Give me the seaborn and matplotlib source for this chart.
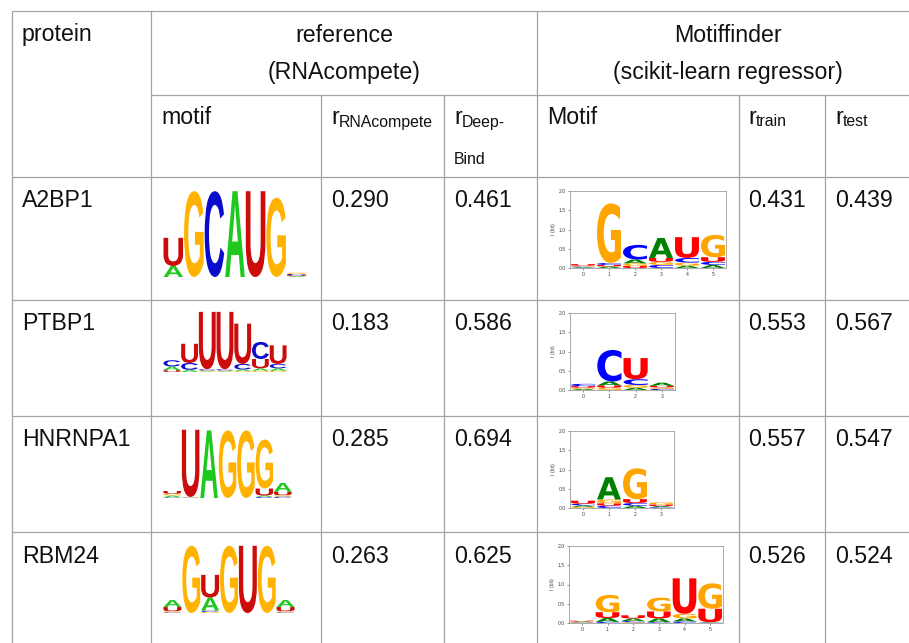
import numpy as np
import matplotlib
matplotlib.use("Agg")
import matplotlib.pyplot as plt
import seaborn as sns
from matplotlib.textpath import TextPath
from matplotlib.font_manager import FontProperties
from matplotlib.patches import PathPatch
from matplotlib.transforms import Affine2D

# ---------------- data ----------------
proteins = ["A2BP1", "PTBP1", "HNRNPA1", "RBM24"]
r_rnacompete = [0.290, 0.183, 0.285, 0.263]
r_deepbind = [0.461, 0.586, 0.694, 0.625]
r_train = [0.431, 0.553, 0.557, 0.526]
r_test = [0.439, 0.567, 0.547, 0.524]

letters = ["A", "C", "G", "U"]
# information content (bits) per position, letter order A, C, G, U
ref_a2bp1 = [[0.25, 0.00, 0.00, 0.64], [0, 0, 1.95, 0], [0, 1.95, 0, 0], [1.95, 0, 0, 0],
             [0, 0, 0, 1.95], [0, 0, 1.80, 0], [0.02, 0.03, 0.03, 0.02]]
ref_ptbp1 = [[0.12, 0.20, 0.00, 0.06], [0.07, 0.22, 0.00, 0.62], [0.02, 0.04, 0.03, 1.85],
             [0.02, 0.04, 0.03, 1.85], [0.05, 0.18, 0.03, 1.30], [0.08, 0.55, 0.04, 0.30],
             [0.08, 0.14, 0.04, 0.60]]
ref_hnrnpa1 = [[0.05, 0.02, 0.05, 0.08], [0.01, 0.01, 0.01, 1.92], [1.93, 0, 0, 0],
               [0, 0, 1.93, 0], [0, 0, 1.93, 0], [0.04, 0.03, 1.40, 0.20],
               [0.25, 0.04, 0.04, 0.10]]
ref_rbm24 = [[0.20, 0.02, 0.03, 0.12], [0, 0, 1.92, 0], [0.37, 0.04, 0.03, 0.65],
             [0, 0, 1.92, 0], [0, 0, 0, 1.92], [0, 0, 1.92, 0], [0.20, 0.02, 0.03, 0.12]]

mf_a2bp1 = [[0.02, 0.02, 0.02, 0.04], [0.04, 0.05, 1.55, 0.04], [0.10, 0.38, 0.07, 0.05],
            [0.52, 0.08, 0.08, 0.10], [0.06, 0.12, 0.08, 0.54], [0.08, 0.08, 0.58, 0.12]]
mf_ptbp1 = [[0.03, 0.06, 0.03, 0.04], [0.10, 0.82, 0.06, 0.06], [0.06, 0.15, 0.07, 0.55],
            [0.08, 0.03, 0.04, 0.04]]
mf_hnrnpa1 = [[0.04, 0.04, 0.03, 0.08], [0.58, 0.06, 0.10, 0.06], [0.06, 0.07, 0.80, 0.10],
              [0.03, 0.02, 0.06, 0.04]]
mf_rbm24 = [[0.02, 0.01, 0.01, 0.02], [0.10, 0.03, 0.45, 0.15], [0.07, 0.03, 0.02, 0.08],
            [0.10, 0.02, 0.36, 0.18], [0.08, 0.04, 0.12, 0.92], [0.01, 0.01, 0.66, 0.35]]

ref_logos = [ref_a2bp1, ref_ptbp1, ref_hnrnpa1, ref_rbm24]
mf_logos = [mf_a2bp1, mf_ptbp1, mf_hnrnpa1, mf_rbm24]

# ---------------- style ----------------
sns.set_style("white")
plt.rcParams["font.family"] = ["Liberation Sans", "DejaVu Sans"]

W, H = 909, 643
fig = plt.figure(figsize=(W / 100, H / 100), dpi=100)
ax = fig.add_axes([0, 0, 1, 1])
ax.set_xlim(0, W)
ax.set_ylim(H, 0)
ax.axis("off")

GRID = "#a3a3a3"
LW = 0.9
# table grid
ax.hlines(11, 12, W, color=GRID, lw=LW)
ax.hlines(94.5, 151, W, color=GRID, lw=LW)
for y in [177, 300, 416, 532]:
    ax.hlines(y, 12, W, color=GRID, lw=LW)
for x in [12, 151, 537]:
    ax.vlines(x, 11, H, color=GRID, lw=LW)
for x in [321, 444, 739, 825]:
    ax.vlines(x, 94.5, H, color=GRID, lw=LW)

FS = 16.7
SFS = 11.4
tk = dict(color="#111111", va="baseline")
ax.text(22, 41.5, "protein", fontsize=FS, ha="left", **tk)
ax.text(344, 41.5, "reference", fontsize=FS, ha="center", **tk)
ax.text(344, 79.5, "(RNAcompete)", fontsize=FS, ha="center", **tk)
ax.text(728, 41.5, "Motiffinder", fontsize=FS, ha="center", **tk)
ax.text(728, 79.5, "(scikit-learn regressor)", fontsize=FS, ha="center", **tk)

ax.text(161, 123.5, "motif", fontsize=FS, ha="left", **tk)
ax.text(547, 123.5, "Motif", fontsize=FS, ha="left", **tk)
for x, sub in [(331, "RNAcompete"), (454, "Deep-"), (748, "train"), (835, "test")]:
    ax.text(x, 123.5, "r", fontsize=FS, ha="left", **tk)
    ax.text(x + 7.8, 126.5, sub, fontsize=SFS, ha="left", **tk)
ax.text(454, 163.5, "Bind", fontsize=SFS, ha="left", **tk)

row_base = [207, 330, 446, 563]
for i, name in enumerate(proteins):
    yb = row_base[i]
    ax.text(22, yb, name, fontsize=FS, ha="left", **tk)
    ax.text(331, yb, f"{r_rnacompete[i]:.3f}", fontsize=FS, ha="left", **tk)
    ax.text(454, yb, f"{r_deepbind[i]:.3f}", fontsize=FS, ha="left", **tk)
    ax.text(748, yb, f"{r_train[i]:.3f}", fontsize=FS, ha="left", **tk)
    ax.text(835, yb, f"{r_test[i]:.3f}", fontsize=FS, ha="left", **tk)

# ---------------- logos ----------------
ref_colors = {"A": "#1ec81e", "C": "#0b0bcc", "G": "#ffb300", "U": "#cc0b0b"}
mf_colors = {"A": "#008000", "C": "#0000ff", "G": "#ffa500", "U": "#ff0000"}
ref_font = FontProperties(family="Liberation Sans", weight="bold")
mf_font = FontProperties(family="DejaVu Sans", weight="bold")


def draw_logo(lax, mat, colors, font, width):
    for i, heights in enumerate(mat):
        pairs = sorted(zip(letters, heights), key=lambda p: p[1])
        y0 = 0.0
        for letter, h in pairs:
            if h <= 0:
                continue
            tp = TextPath((0, 0), letter, size=1, prop=font)
            bb = tp.get_extents()
            tr = (Affine2D().translate(-bb.x0, -bb.y0)
                  .scale(width / bb.width, h / bb.height)
                  .translate(i - width / 2, y0))
            lax.add_patch(PathPatch(tr.transform_path(tp), fc=colors[letter], ec="none"))
            y0 += h


def px_axes(x0, x1, ytop, ybot):
    return fig.add_axes([x0 / W, 1 - ybot / H, (x1 - x0) / W, (ybot - ytop) / H])


ref_boxes = [(163, 307, 189, 277), (163, 287, 310, 372), (163, 292, 428, 498), (163, 295, 543, 613)]
for mat, (x0, x1, yt, yb) in zip(ref_logos, ref_boxes):
    lax = px_axes(x0, x1, yt, yb)
    lax.set_xlim(-0.5, len(mat) - 0.5)
    lax.set_ylim(0, 2)
    lax.axis("off")
    draw_logo(lax, mat, ref_colors, ref_font, 0.95)

mf_boxes = [(570, 726, 191, 268), (570, 675, 313, 390), (570, 674, 431, 508), (569, 723, 546, 623)]
for mat, (x0, x1, yt, yb) in zip(mf_logos, mf_boxes):
    lax = px_axes(x0, x1, yt, yb)
    n = len(mat)
    lax.set_xlim(-0.5, n - 0.5)
    lax.set_ylim(0, 2)
    lax.set_facecolor("white")
    draw_logo(lax, mat, mf_colors, mf_font, 0.92)
    lax.set_xticks(range(n))
    lax.set_yticks([0, 0.5, 1.0, 1.5, 2.0])
    lax.set_yticklabels([f"{v:.1f}" for v in [0, 0.5, 1.0, 1.5, 2.0]])
    lax.tick_params(labelsize=3.7, length=1.5, width=0.4, pad=1.2, colors="#444444",
                    left=True, bottom=True)
    lax.set_ylabel("I (bit)", fontsize=3.7, labelpad=2, color="#444444")
    for s in lax.spines.values():
        s.set_color("#8a8a8a")
        s.set_linewidth(0.5)
        s.set_visible(True)

fig.savefig("out.png", dpi=100, facecolor="white")
